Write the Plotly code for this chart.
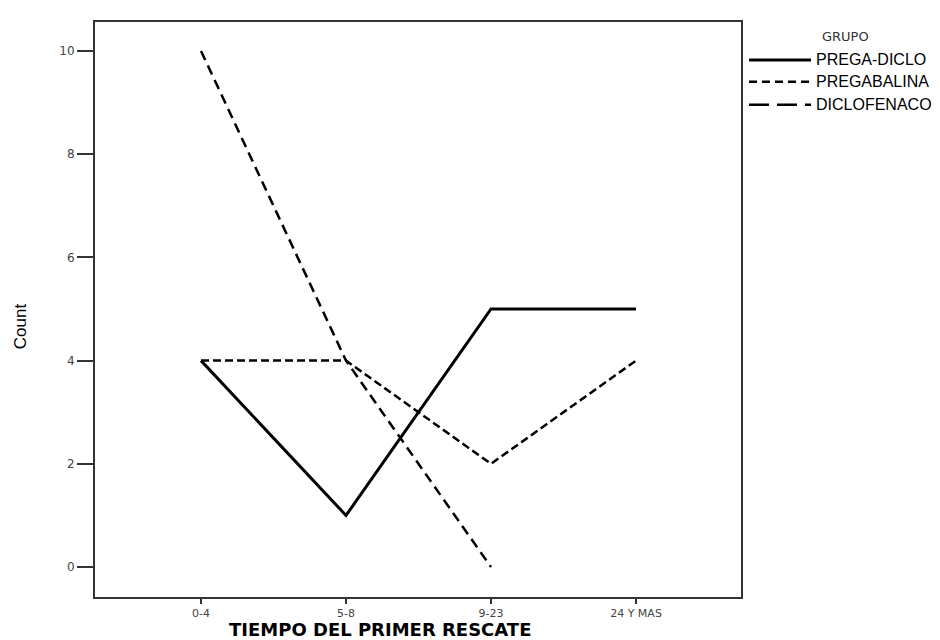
import plotly.graph_objects as go

categories = ["0-4", "5-8", "9-23", "24 Y MAS"]
series_names = ["PREGA-DICLO", "PREGABALINA", "DICLOFENACO"]
prega_diclo = [4, 1, 5, 5]
pregabalina = [4, 4, 2, 4]
diclofenaco = [10, 4, 0, None]
y_ticks = [0, 2, 4, 6, 8, 10]

plot_dash = ["solid", "8px,4px", "10px,6px"]
legend_dash = ["solid", "8px,5px", "20px,8px"]
widths = [3, 2.5, 2.5]

fig = go.Figure()
for name, vals, dash, w in zip(series_names, [prega_diclo, pregabalina, diclofenaco], plot_dash, widths):
    fig.add_trace(go.Scatter(x=categories, y=vals, mode="lines", name=name, showlegend=False,
                             line=dict(color="black", width=w, dash=dash)))

# manual legend (paper coordinates)
leg_y = [0.934, 0.896, 0.856]
for name, y, dash, w in zip(series_names, leg_y, legend_dash, widths):
    fig.add_shape(type="line", xref="paper", yref="paper", x0=1.0124, x1=1.1084, y0=y, y1=y,
                  line=dict(color="black", width=w, dash=dash))
    fig.add_annotation(xref="paper", yref="paper", x=1.113, y=y, text=name, showarrow=False,
                       xanchor="left", yanchor="middle",
                       font=dict(size=16, family="Liberation Sans, Arial", color="black"))
fig.add_annotation(xref="paper", yref="paper", x=1.1625, y=0.974, text="GRUPO", showarrow=False,
                   xanchor="center", yanchor="middle",
                   font=dict(size=13, family="DejaVu Sans, Arial", color="#333"))

# axis titles
fig.add_annotation(xref="paper", yref="paper", x=0.441, y=-0.0557, text="<b>TIEMPO DEL PRIMER RESCATE</b>",
                   showarrow=False, xanchor="center", yanchor="middle",
                   font=dict(size=18, family="DejaVu Sans, Arial", color="black"))
fig.add_annotation(xref="paper", yref="paper", x=-0.116, y=0.471, text="Count", textangle=-90,
                   showarrow=False, xanchor="center", yanchor="middle",
                   font=dict(size=17, family="Liberation Sans Narrow, Liberation Sans, Arial", color="black"))

fig.update_layout(
    width=940, height=640,
    margin=dict(l=87, r=207, t=14, b=51),
    paper_bgcolor="white", plot_bgcolor="white",
    font=dict(family="Liberation Sans, Arial", color="black"),
    showlegend=False,
    xaxis=dict(
        type="category", range=[-0.731, 3.724],
        showgrid=False, zeroline=False,
        showline=True, linecolor="#333", linewidth=2, mirror=True,
        ticks="outside", ticklen=5, tickcolor="#333", tickwidth=1.5,
        tickfont=dict(size=11, family="DejaVu Sans, Arial", color="#444"),
    ),
    yaxis=dict(
        range=[-0.581, 10.562], tickvals=y_ticks,
        showgrid=False, zeroline=False,
        showline=True, linecolor="#333", linewidth=2, mirror=True,
        ticks="outside", ticklen=16, tickcolor="#333", tickwidth=1.5,
        tickfont=dict(size=12, family="DejaVu Sans, Arial", color="#444"),
    ),
)

fig.write_html("out.html")
